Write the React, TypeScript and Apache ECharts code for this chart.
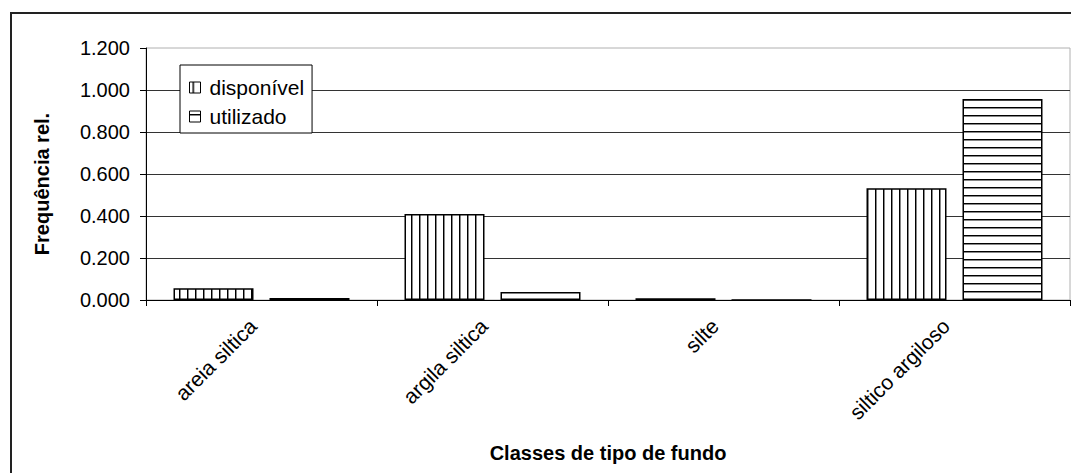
import React, { useEffect, useRef } from "react";
import * as echarts from "echarts";

const categories = ["areia siltica", "argila siltica", "silte", "siltico argiloso"];
const disponivel = [0.056, 0.41, 0.008, 0.532];
const utilizado = [0.01, 0.038, 0, 0.957];
const yTicks = { min: 0, max: 1.2, interval: 0.2 };

function stripe(vertical: boolean) {
  const c = document.createElement("canvas");
  c.width = 8;
  c.height = 8;
  const ctx = c.getContext("2d")!;
  ctx.fillStyle = "#ffffff";
  ctx.fillRect(0, 0, 8, 8);
  if (vertical) {
    ctx.fillStyle = "#000000";
    ctx.fillRect(3, 0, 1, 8);
    ctx.fillStyle = "#888888";
    ctx.fillRect(4, 0, 1, 8);
  } else {
    ctx.fillStyle = "#000000";
    ctx.fillRect(0, 3, 8, 1);
    ctx.fillStyle = "#888888";
    ctx.fillRect(0, 4, 8, 1);
  }
  return { image: c, repeat: "repeat" } as any;
}

export default function App() {
  const ref = useRef<HTMLDivElement>(null);
  useEffect(() => {
    if (!ref.current) return;
    const chart = echarts.init(ref.current, null, { renderer: "svg" });
    const font = "'Liberation Sans'";
    chart.setOption({
      animation: false,
      textStyle: { fontFamily: font, color: "#000" },
      graphic: [
        {
          type: "rect",
          z: -10,
          shape: { x: 11, y: 13, width: 1090, height: 480 },
          style: { fill: "none", stroke: "#222", lineWidth: 2 },
        },
      ],
      grid: {
        left: 146,
        right: 1,
        top: 48,
        bottom: 173,
        show: true,
        borderColor: "#b0b0b0",
        borderWidth: 1,
        backgroundColor: "transparent",
      },
      legend: {
        orient: "vertical",
        left: 180,
        top: 65,
        padding: [12, 8, 6, 9],
        itemGap: 8,
        itemWidth: 11,
        itemHeight: 11,
        icon: "rect",
        borderColor: "#000",
        borderWidth: 1,
        borderRadius: 0,
        backgroundColor: "#fff",
        textStyle: { fontSize: 21, fontFamily: font, color: "#000", padding: [0, 0, 0, 4] },
        itemStyle: { borderColor: "#000", borderWidth: 1 },
        data: ["disponível", "utilizado"],
      },
      xAxis: {
        type: "category",
        data: categories,
        name: "Classes de tipo de fundo",
        nameLocation: "middle",
        nameGap: 143,
        nameTextStyle: { fontSize: 20, fontWeight: "bold", fontFamily: font, color: "#000" },
        axisLine: { lineStyle: { color: "#000", width: 1 } },
        axisTick: { show: true, length: 6, lineStyle: { color: "#000" } },
        axisLabel: { rotate: 45, fontSize: 21, fontFamily: font, color: "#000", margin: 14, padding: [0, 12, 0, 0] },
        splitLine: { show: false },
      },
      yAxis: {
        type: "value",
        min: yTicks.min,
        max: yTicks.max,
        interval: yTicks.interval,
        name: "Frequência rel.",
        nameLocation: "middle",
        nameGap: 94,
        nameTextStyle: { fontSize: 20, fontWeight: "bold", fontFamily: font, color: "#000", padding: [0, 20, 0, 0] },
        axisLine: { show: true, lineStyle: { color: "#000", width: 1 } },
        axisTick: { show: true, length: 6, lineStyle: { color: "#000" } },
        axisLabel: {
          fontSize: 20,
          fontFamily: font,
          color: "#000",
          margin: 16,
          formatter: (v: number) => v.toFixed(3),
        },
        splitLine: { show: true, showMaxLine: false, lineStyle: { color: "#333", width: 1 } },
      },
      series: [
        {
          name: "disponível",
          type: "bar",
          data: disponivel,
          barWidth: 80,
          barGap: "20%",
          itemStyle: { color: stripe(true), borderColor: "#000", borderWidth: 1.5 },
        },
        {
          name: "utilizado",
          type: "bar",
          data: utilizado,
          barWidth: 80,
          barGap: "20%",
          itemStyle: { color: stripe(false), borderColor: "#000", borderWidth: 1.5 },
        },
      ],
    });
    return () => chart.dispose();
  }, []);
  return (
    <div
      ref={ref}
      style={{ position: "fixed", left: 0, top: 0, width: 1071, height: 473, background: "#fff" }}
    />
  );
}
